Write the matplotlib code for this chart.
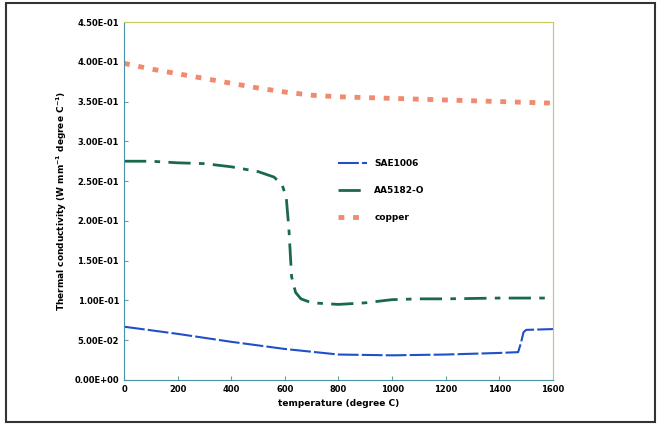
import matplotlib
matplotlib.use("Agg")
import matplotlib.pyplot as plt
from matplotlib.patches import Rectangle
from matplotlib.ticker import FuncFormatter

# data
sae_temp = [0, 200, 400, 600, 800, 1000, 1200, 1400, 1470, 1480, 1490, 1500, 1600]
sae_k = [0.067, 0.058, 0.048, 0.039, 0.032, 0.031, 0.032, 0.034, 0.035, 0.046, 0.060, 0.063, 0.064]

aa_temp = [0, 100, 200, 300, 400, 500, 560, 590, 605, 615, 625, 640, 660, 700, 800, 900, 1000, 1100, 1200, 1400, 1600]
aa_k = [0.275, 0.275, 0.273, 0.272, 0.268, 0.262, 0.255, 0.245, 0.230, 0.190, 0.130, 0.110, 0.102, 0.097, 0.095, 0.097, 0.101, 0.102, 0.102, 0.103, 0.103]

cu_temp = [0, 100, 200, 300, 400, 500, 600, 700, 800, 900, 1000, 1100, 1200, 1300, 1400, 1500, 1600]
cu_k = [0.398, 0.391, 0.385, 0.379, 0.373, 0.367, 0.362, 0.358, 0.356, 0.355, 0.354, 0.353, 0.352, 0.351, 0.350, 0.349, 0.348]

plt.rcParams["font.family"] = ["DejaVu Sans"]
plt.rcParams["font.weight"] = "bold"

fig = plt.figure(figsize=(6.61, 4.30), dpi=100)
fig.patches.append(Rectangle((0.009, 0.018), 0.982, 0.975, transform=fig.transFigure,
                             fill=False, edgecolor="#333333", linewidth=1.5))
ax = fig.add_axes([0.1876, 0.1163, 0.649, 0.8325])

ax.plot(sae_temp, sae_k, color="#2050c8", linewidth=1.5, dashes=(10, 1.5), label="SAE1006")
ax.plot(aa_temp, aa_k, color="#1a6a4a", linewidth=2, linestyle=(0, (8, 3, 2, 3)), label="AA5182-O")
ax.plot(cu_temp, cu_k, color="#f08a70", linewidth=3.5, linestyle=(0, (1.2, 1.8)), label="copper")

ax.set_xlim(0, 1600)
ax.set_ylim(0, 0.45)
ax.set_xticks(range(0, 1601, 200))
ax.set_yticks([i * 0.05 for i in range(10)])
ax.yaxis.set_major_formatter(FuncFormatter(lambda v, p: f"{v:.2E}"))
ax.tick_params(labelsize=6, length=3, color="#5aa0b0", direction="in")
for s in ["left", "bottom"]:
    ax.spines[s].set_color("#4a90a8")
for s in ["top", "right"]:
    ax.spines[s].set_color("#c8c860")

ax.set_xlabel("temperature (degree C)", fontsize=6.5, fontweight="bold")
ax.set_ylabel("Thermal conductivity (W mm$^{-1}$ degree C$^{-1}$)", fontsize=6.5, fontweight="bold")

ax.legend(loc="upper left", bbox_to_anchor=(0.48, 0.64), frameon=False, fontsize=6.5,
          handlelength=3.2, labelspacing=2.0)

fig.savefig("out.png", dpi=100)
